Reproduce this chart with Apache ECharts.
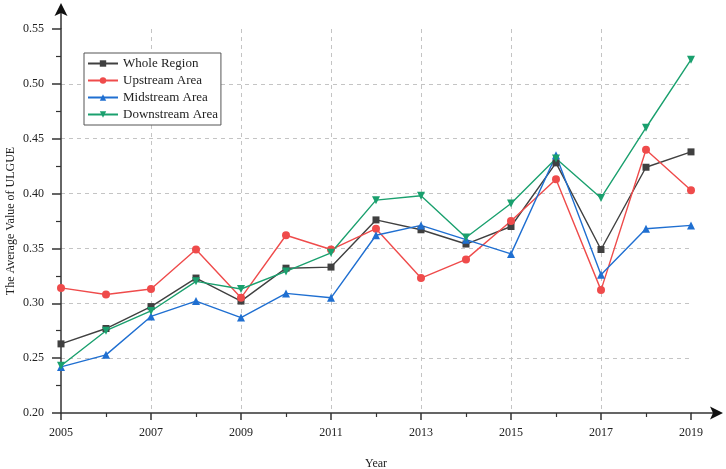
<!DOCTYPE html>
<html>
<head>
<meta charset="utf-8">
<script src="https://cdn.jsdelivr.net/npm/echarts@6/dist/echarts.min.js"></script>
<style>
  html, body { margin: 0; padding: 0; background: #fff; }
  #chart { width: 726px; height: 469px; }
</style>
</head>
<body>
<div id="chart"></div>
<script>
// years on the x axis
var years = [2005, 2006, 2007, 2008, 2009, 2010, 2011, 2012, 2013, 2014, 2015, 2016, 2017, 2018, 2019];

// average ULGUE per area
var wholeRegion = [0.263, 0.277, 0.297, 0.323, 0.302, 0.332, 0.333, 0.376, 0.367, 0.354, 0.370, 0.428, 0.349, 0.424, 0.438];
var upstream    = [0.314, 0.308, 0.313, 0.349, 0.305, 0.362, 0.349, 0.368, 0.323, 0.340, 0.375, 0.413, 0.312, 0.440, 0.403];
var midstream   = [0.242, 0.253, 0.288, 0.302, 0.287, 0.309, 0.305, 0.362, 0.371, 0.358, 0.345, 0.435, 0.326, 0.368, 0.371];
var downstream  = [0.243, 0.275, 0.293, 0.320, 0.313, 0.329, 0.346, 0.394, 0.398, 0.360, 0.391, 0.432, 0.396, 0.460, 0.522];

var seriesNames = ['Whole Region', 'Upstream Area', 'Midstream Area', 'Downstream Area'];

var fontFam = '"Liberation Serif", "DejaVu Serif", serif';
var axisColor = '#333333';

function pairs(vals) {
  var out = [];
  for (var i = 0; i < years.length; i++) out.push([years[i], vals[i]]);
  return out;
}

function lineSeries(name, vals, color, symbol, rotate) {
  return {
    name: name,
    type: 'line',
    data: pairs(vals),
    symbol: symbol,
    symbolSize: symbol === 'rect' ? 7 : 8,
    symbolRotate: rotate || 0,
    lineStyle: { color: color, width: 1.4 },
    itemStyle: { color: color },
    emphasis: { disabled: true },
    animation: false
  };
}

var myChart = echarts.init(document.getElementById('chart'));

var option = {
  backgroundColor: '#ffffff',
  grid: { left: 61, right: 35, top: 29, bottom: 56, containLabel: false, outerBoundsMode: 'none' },
  legend: {
    orient: 'vertical',
    left: 84,
    top: 53,
    itemWidth: 30,
    itemHeight: 8,
    itemGap: 4,
    padding: [4, 3, 4, 3],
    borderColor: '#555555',
    borderWidth: 1,
    backgroundColor: '#ffffff',
    textStyle: { fontFamily: fontFam, fontSize: 13, color: '#222222' },
    data: seriesNames
  },
  xAxis: {
    type: 'value',
    min: 2005,
    max: 2019,
    interval: 2,
    name: 'Year',
    nameLocation: 'middle',
    nameGap: 45,
    nameMoveOverlap: false,
    nameTextStyle: { fontFamily: fontFam, fontSize: 12, color: '#222222' },
    axisLine: { show: true, onZero: false, lineStyle: { color: axisColor, width: 1.5 } },
    axisTick: { show: true, length: 7, lineStyle: { color: axisColor, width: 1.5 } },
    minorTick: { show: true, splitNumber: 2, length: 4, lineStyle: { color: axisColor, width: 1.2 } },
    axisLabel: { fontFamily: fontFam, fontSize: 12, color: '#222222', margin: 14, formatter: function (v) { return String(v); } },
    splitLine: { show: true, showMinLine: false, showMaxLine: false, lineStyle: { color: '#c4c4c4', type: [4, 4], width: 1 } }
  },
  yAxis: {
    type: 'value',
    min: 0.20,
    max: 0.55,
    interval: 0.05,
    name: 'The Average Value of ULGUE',
    nameLocation: 'middle',
    nameGap: 44,
    nameMoveOverlap: false,
    nameTextStyle: { fontFamily: fontFam, fontSize: 12, color: '#222222' },
    axisLine: { show: true, lineStyle: { color: axisColor, width: 1.5 } },
    axisTick: { show: true, length: 9, lineStyle: { color: axisColor, width: 1.5 } },
    minorTick: { show: true, splitNumber: 2, length: 5, lineStyle: { color: axisColor, width: 1.2 } },
    axisLabel: { fontFamily: fontFam, fontSize: 12, color: '#222222', margin: 17, formatter: function (v) { return v.toFixed(2); } },
    splitLine: { show: true, showMinLine: false, showMaxLine: false, lineStyle: { color: '#c4c4c4', type: [4, 4], width: 1 } }
  },
  series: [
    lineSeries(seriesNames[0], wholeRegion, '#404040', 'rect'),
    lineSeries(seriesNames[1], upstream, '#ef4b4b', 'circle'),
    lineSeries(seriesNames[2], midstream, '#1f6fd1', 'triangle'),
    lineSeries(seriesNames[3], downstream, '#1aa06e', 'triangle', 180)
  ]
};
myChart.setOption(option);

// arrow heads extending the two axes past their last tick
var origin = myChart.convertToPixel({ gridIndex: 0 }, [2005, 0.20]);
var topEnd = myChart.convertToPixel({ gridIndex: 0 }, [2005, 0.55]);
var rightEnd = myChart.convertToPixel({ gridIndex: 0 }, [2019, 0.20]);
var ax = origin[0], ay = origin[1];
var yTip = 3, xTip = 723;
myChart.setOption({
  graphic: [
    { type: 'line', shape: { x1: ax, y1: topEnd[1], x2: ax, y2: yTip + 6 }, style: { stroke: axisColor, lineWidth: 1.5 } },
    { type: 'polygon', shape: { points: [[ax, yTip], [ax + 6.5, yTip + 13], [ax, yTip + 10], [ax - 6.5, yTip + 13]] }, style: { fill: '#111111' } },
    { type: 'line', shape: { x1: rightEnd[0], y1: ay, x2: xTip - 6, y2: ay }, style: { stroke: axisColor, lineWidth: 1.5 } },
    { type: 'polygon', shape: { points: [[xTip, ay], [xTip - 13, ay - 6.5], [xTip - 10, ay], [xTip - 13, ay + 6.5]] }, style: { fill: '#111111' } }
  ]
});
</script>
</body>
</html>
